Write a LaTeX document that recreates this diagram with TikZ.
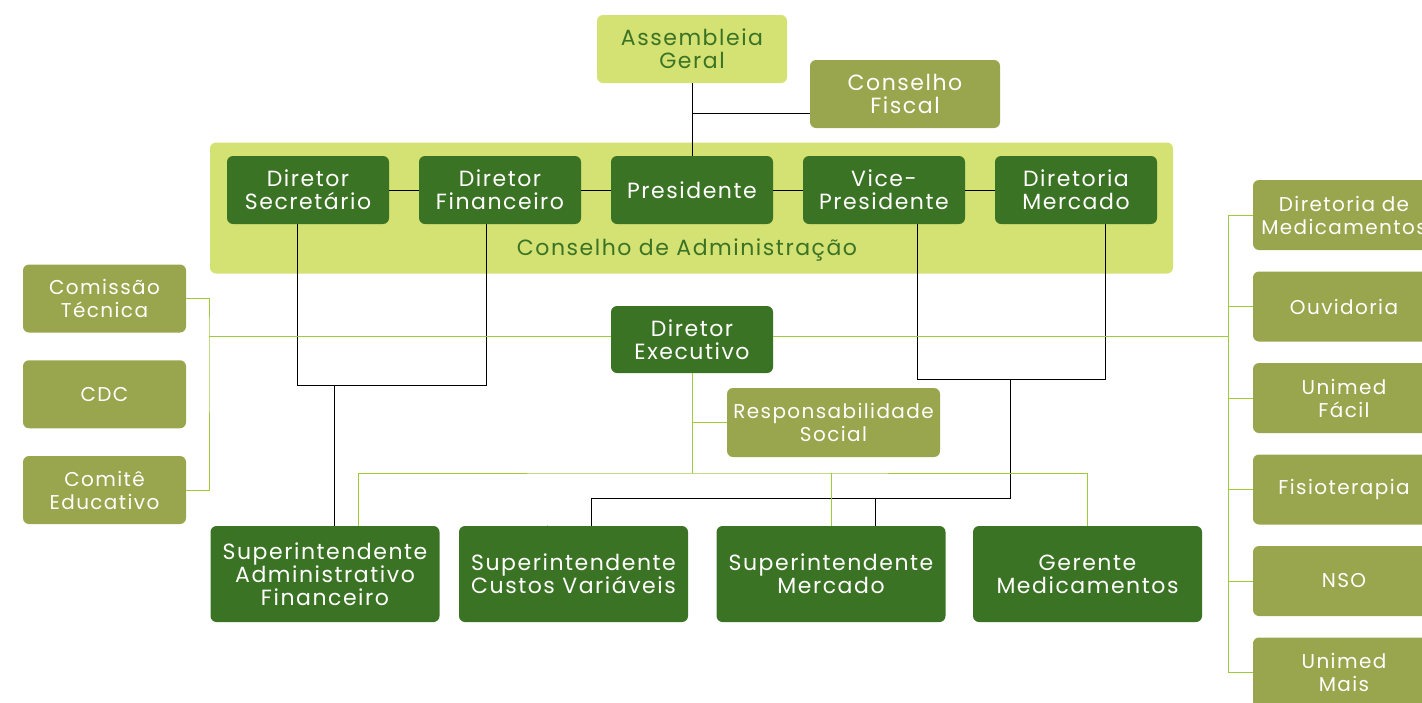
\documentclass[tikz,border=0pt]{standalone}
\usepackage{fontspec}
\setmainfont{Poppins}[LetterSpace=7]
\usetikzlibrary{positioning}
\definecolor{lgreen}{HTML}{D4E173}
\definecolor{dgreen}{HTML}{3B7324}
\definecolor{olgreen}{HTML}{9AA64D}
\definecolor{lnline}{HTML}{9CCB3B}
\tikzset{box/.style={rounded corners=6pt,align=center,inner sep=0pt,font=\fontsize{22}{23}\selectfont}}
\tikzset{dk/.style={box,fill=dgreen,text=white}}
\tikzset{ol/.style={box,fill=olgreen,text=white}}
\tikzset{lt/.style={box,fill=lgreen,text=dgreen}}
\tikzset{sm/.style={font=\fontsize{20}{23}\selectfont}}
\tikzset{gl/.style={lnline,line width=1pt}}
\tikzset{bl/.style={black,line width=1pt}}

\begin{document}
\begin{tikzpicture}[x=1pt,y=-1pt]
\useasboundingbox (0,0) rectangle (1422,702);
\clip (0,0) rectangle (1422,702);
\node[lt,minimum width=190pt,minimum height=68pt] (ag) at (692,49) {Assembleia\\Geral};
\node[ol,minimum width=190pt,minimum height=68pt] (cf) at (905,94) {Conselho\\Fiscal};
\node[lt,minimum width=963pt,minimum height=131pt] (ca) at (691.5,208) {};
\node[box,text=dgreen] (cal) at (687,250) {Conselho de Administração};
\begin{scope}[on grid,minimum width=162pt,minimum height=68pt]
\node[dk] (pres) at (692,190) {Presidente};
\node[dk] (df) [left = 192pt of pres] {Diretor\\Financeiro};
\node[dk] (ds) [left = 192pt of df] {Diretor\\Secretário};
\node[dk] (vp) [right = 192pt of pres] {Vice-\\Presidente};
\node[dk] (dm) [right = 192pt of vp] {Diretoria\\Mercado};
\node[dk,minimum height=67pt] (de) at (692,339.5) {Diretor\\Executivo};
\end{scope}
\begin{scope}[on grid,minimum width=163pt,minimum height=68pt]
\node[ol,sm] (ct) at (104.5,298.5) {Comissão\\Técnica};
\node[ol,sm] (cdc) [below = 95.75pt of ct] {CDC};
\node[ol,sm] (ce) [below = 95.75pt of cdc] {Comitê\\Educativo};
\end{scope}
\node[ol,sm,minimum width=213pt,minimum height=69pt] (rs) at (833.5,422.5) {Responsabilidade\\Social};
\begin{scope}[minimum width=229pt,minimum height=96pt]
\node[dk] (adm) at (325,574) {Superintendente\\Administrativo\\Financeiro};
\node[dk] (cv) at (573.5,574) {Superintendente\\Custos Variáveis};
\node[dk] (sm) at (831,574) {Superintendente\\Mercado};
\node[dk] (gm) at (1087.5,574) {Gerente\\Medicamentos};
\end{scope}
\begin{scope}[on grid,minimum width=182pt,minimum height=70pt]
\node[ol,sm] (dmed) at (1344,215) {Diretoria de\\Medicamentos};
\node[ol,sm] (ouv) [below = 91.5pt of dmed] {Ouvidoria};
\node[ol,sm] (uf) [below = 91.5pt of ouv] {Unimed\\Fácil};
\node[ol,sm] (fis) [below = 91.5pt of uf] {Fisioterapia};
\node[ol,sm] (nso) [below = 91.5pt of fis] {NSO};
\node[ol,sm] (umais) [below = 91.5pt of nso] {Unimed\\Mais};
\end{scope}

\coordinate (cfj) at (692,113);
\draw[bl] (ag) -- (pres);
\draw[bl] (cfj) -- (cfj -| cf.west);
\draw[bl] (ds) -- (df);
\draw[bl] (df) -- (pres);
\draw[bl] (pres) -- (vp);
\draw[bl] (vp) -- (dm);
\coordinate (lj) at (334,385);
\draw[bl] ([xshift=-11pt]ds.south) -- ++(0,161) -| ([xshift=-14pt]df.south);
\draw[bl] (lj) -- (lj |- adm.north);
\coordinate (rj) at (1010,379);
\coordinate (mj) at (1010,498);
\draw[bl] ([xshift=33pt]vp.south) -- ++(0,155) -| ([xshift=29pt]dm.south);
\draw[bl] (rj) -- (mj) -| ([xshift=18pt]cv.north);
\draw[bl] ([xshift=44pt]sm.north) |- (mj);

\coordinate (lg) at (209,336);
\coordinate (rg) at (1229,336);
\coordinate (bj) at (692,473);
\draw[gl] (ct.east) -| (lg) |- (ce.east);
\draw[gl] (lg) -- (lg -| de.west);
\draw[gl] (de.east |- rg) -- (rg);
\draw[gl] (dmed.west) -- ++(-24,0) |- (umais.west)
  (ouv.west) -- ++(-24,0) (uf.west) -- ++(-24,0)
  (fis.west) -- ++(-24,0) (nso.west) -- ++(-24,0);
\draw[gl] (de) -- (bj);
\draw[gl] (rs.west) -- (rs.west -| bj);
\draw[gl] ([xshift=33pt]adm.north) |- (bj) -| (gm.north);
\draw[gl] (sm.north) -- (sm.north |- bj);
\draw[gray!50,line width=1pt] ([xshift=-26pt]cv.north) -- (cv.north -| 547,473);
\end{tikzpicture}
\end{document}
